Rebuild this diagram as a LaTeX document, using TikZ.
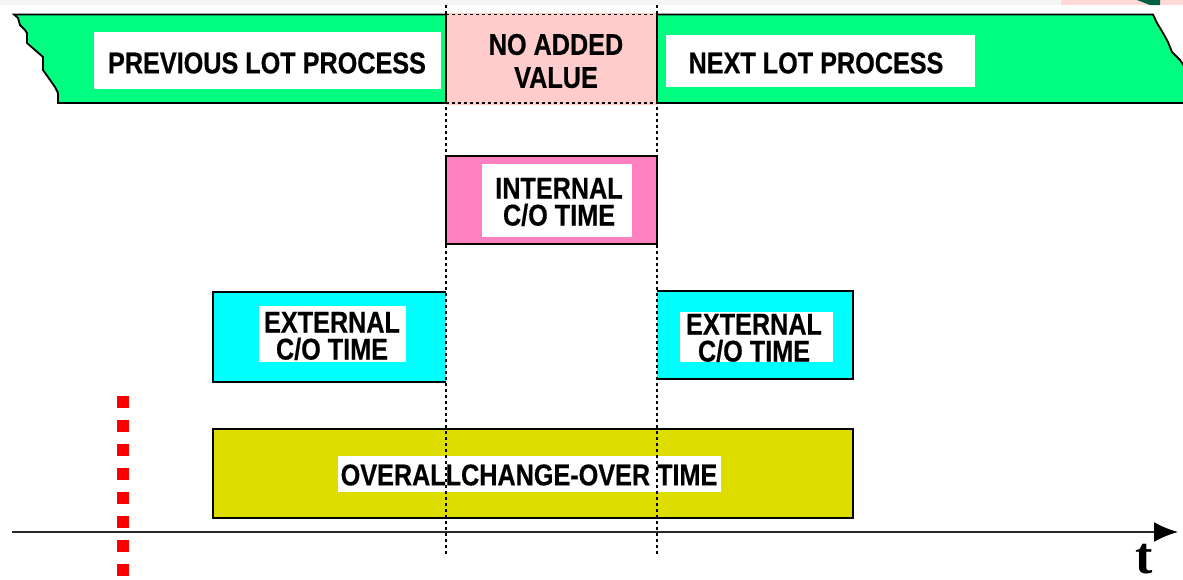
\documentclass[tikz,border=0pt]{standalone}
\usepackage{fontspec}
\setmainfont{Liberation Sans}[FakeStretch=0.84, BoldFeatures={FakeBold=0.5}]
\newfontfamily\axisfont{Liberation Serif}
\usetikzlibrary{arrows.meta}
\definecolor{bandgreen}{RGB}{0,255,128}
\definecolor{novalue}{RGB}{255,204,204}
\definecolor{intpink}{RGB}{255,128,192}
\definecolor{extcyan}{RGB}{0,255,255}
\definecolor{overallyellow}{RGB}{221,221,0}
\definecolor{topgray}{RGB}{244,246,244}
\definecolor{toppink}{RGB}{255,216,216}
\definecolor{topdark}{RGB}{0,96,64}
\definecolor{axisgray}{RGB}{40,40,40}
\begin{document}
\begin{tikzpicture}[x=1pt,y=-1pt,
  edge/.style={line width=1.8pt, black},
  bar/.style={inner sep=0pt, outer sep=0pt, anchor=north west},
  lbox/.style={fill=white, inner sep=0pt, outer sep=0pt, align=center,
    font=\bfseries\fontsize{30}{27}\selectfont},
  ltext/.style={inner sep=0pt, align=center, font=\bfseries\fontsize{30}{27}\selectfont},
  marker/.style={black, line width=1.2pt, dash pattern=on 3pt off 3pt},
]
\useasboundingbox (0,0) rectangle (1183,579);
\clip (0,0) rectangle (1183,579);

% strip along the top edge
\fill[topgray] (0,0) rectangle (1183,4.5);
\fill[toppink] (1061,0) rectangle (1183,5);
\fill[topdark] (1137,0) -- (1160,0) -- (1160,5) -- (1150,5) -- cycle;

% process band with torn ends
\draw[edge, fill=bandgreen, line join=miter]
  (14,14.5) -- (18,18) -- (20,25) -- (25,30) -- (27,33) -- (27,43) -- (43,57)
  -- (43,70) -- (55,87) -- (58,93) -- (58,103) -- (1200,103) -- (1190,75)
  -- (1180,60) -- (1172,52) -- (1168,42) -- (1163,33) -- (1157,23)
  -- (1153,14.5) -- cycle;
\fill[novalue] (446,13) rectangle (657,104.5);
\draw[marker] (446,14.5) -- (657,14.5);
\draw[marker] (446,103) -- (657,103);
\draw[edge] (446,14.5) -- (446,103);
\draw[edge] (657,14.5) -- (657,103);

\node[lbox, minimum width=347pt, minimum height=57pt] (prevbox) at (267.5,60.5) {};
\node[ltext] (prevlbl) at (267,63) {PREVIOUS LOT PROCESS};
\node[ltext, font=\bfseries\fontsize{30}{33}\selectfont] (novaluelbl) at (556,61) {NO ADDED\\VALUE};
\node[lbox, minimum width=309pt, minimum height=52pt] (nextbox) at (820.5,61) {};
\node[ltext] (nextlbl) at (816,63) {NEXT LOT PROCESS};

% internal change-over
\node[bar, fill=intpink, draw, line width=1.8pt, minimum width=211pt, minimum height=88pt] (internal) at (446,156) {};
\node[lbox, minimum width=150pt, minimum height=73pt] (internalbox) at (557,200.5) {};
\node[ltext] (internallbl) at (559,202) {INTERNAL\\C/O TIME};

% external change-over, before and after
\node[bar, fill=extcyan, minimum width=233pt, minimum height=90pt] (extleft) at (213,292) {};
\draw[edge] (extleft.north east) -- (extleft.north west) -- (extleft.south west) -- (extleft.south east);
\node[lbox, minimum width=147pt, minimum height=56pt] (extleftbox) at (332.5,334) {};
\node[ltext] (extleftlbl) at (332,336) {EXTERNAL\\C/O TIME};

\node[bar, fill=extcyan, minimum width=196pt, minimum height=88pt] (extright) at (657,291) {};
\draw[edge] (extright.north west) -- (extright.north east) -- (extright.south east) -- (extright.south west);
\node[lbox, minimum width=153pt, minimum height=50pt] (extrightbox) at (756.5,337) {};
\node[ltext] (extrightlbl) at (754,338) {EXTERNAL\\C/O TIME};

% overall change-over
\node[bar, fill=overallyellow, draw, line width=1.8pt, minimum width=640pt, minimum height=89pt] (overall) at (213,429) {};
\node[lbox, minimum width=383pt, minimum height=36pt] (overallbox) at (529.5,474) {};
\node[ltext] (overalllbl) at (529,475) {OVERALLCHANGE-OVER TIME};

% boundaries of the change-over
\coordinate (leftmtop) at (446,5);
\coordinate (leftmbot) at (446,555);
\coordinate (rightmtop) at (657,5);
\coordinate (rightmbot) at (657,555);
\draw[marker] (leftmtop) -- (leftmbot);
\draw[marker] (rightmtop) -- (rightmbot);

% time axis
\coordinate (axstart) at (12,532);
\coordinate (axend) at (1178,532);
\draw[line width=2pt, axisgray, -{Latex[length=24pt,width=20pt,black]}] (axstart) -- (axend);
\node[font=\axisfont\bfseries\fontsize{52}{52}\selectfont, inner sep=0pt] (tlabel) at (1144,559) {t};

% red marker
\coordinate (redtop) at (123,396);
\coordinate (redbot) at (123,578);
\draw[red, line width=12pt, dash pattern=on 12pt off 12pt] (redtop) -- (redbot);
\end{tikzpicture}
\end{document}
